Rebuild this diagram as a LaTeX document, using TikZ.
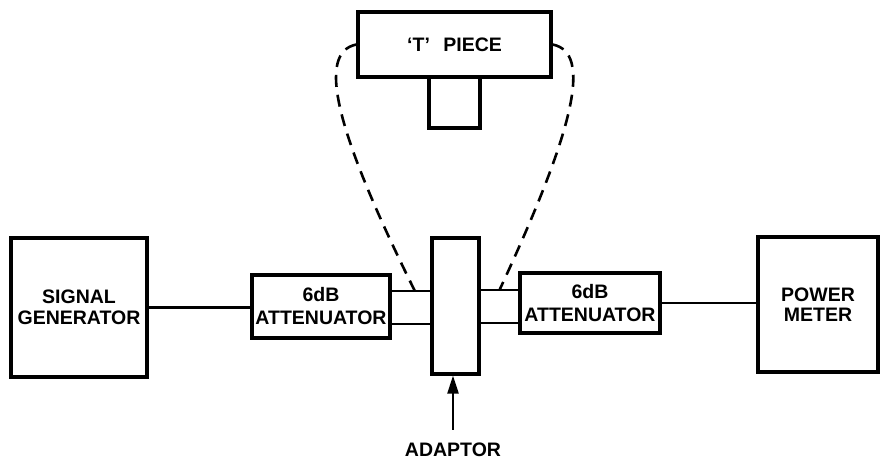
\documentclass[tikz,border=0pt]{standalone}
\usepackage{fontspec}
\setmainfont{Liberation Sans}
\usetikzlibrary{calc, arrows.meta, positioning}

\begin{document}
\begin{tikzpicture}[x=1pt, y=-1pt, >={Triangle[length=18pt, width=11pt]},
    khoi/.style={draw, line width=3.2pt, align=center, inner sep=0pt},
    day/.style={line width=2.4pt},
    net/.style={line width=2.6pt, dash pattern=on 12pt off 8pt}]
    \useasboundingbox (0,0) rectangle (882,461);
    % --- CHUOI DO CHINH ---
    \node[khoi, minimum width=136pt, minimum height=139pt,
          font=\bfseries\fontsize{19.5}{21}\selectfont] (sg) at (79,307.5) {SIGNAL\\GENERATOR};
    \node[khoi, minimum width=138pt, minimum height=63pt,
          font=\bfseries\fontsize{19.5}{23}\selectfont] (attA) at (321,306.5) {6dB\\ATTENUATOR};
    \node[khoi, minimum width=47pt, minimum height=136pt] (adp) at (455.5,306) {};
    \node[khoi, minimum width=140pt, minimum height=60pt,
          font=\bfseries\fontsize{19.5}{23}\selectfont] (attB) at (590,303) {6dB\\ATTENUATOR};
    \node[khoi, minimum width=120pt, minimum height=135pt,
          font=\bfseries\fontsize{19.5}{20}\selectfont] (pm) at (818,304.5) {POWER\\METER};

    % Day noi giua cac khoi
    \draw[day] (sg.east) -- (sg.east -| attA.west);
    \draw[day] (attB.east) -- (attB.east -| pm.west);

    % Hai doan ong ngan hai ben bo noi
    \coordinate (lt) at ([yshift=15.5pt]attA.east);
    \coordinate (lb) at ([yshift=-17.5pt]attA.east);
    \coordinate (rt) at ([yshift=13pt]attB.west);
    \coordinate (rb) at ([yshift=-20pt]attB.west);
    \draw[day] (lt) -- (lt -| adp.west);
    \draw[day] (lb) -- (lb -| adp.west);
    \draw[day] (rt -| adp.east) -- (rt);
    \draw[day] (rb -| adp.east) -- (rb);

    % --- KHOI 'T' PIECE ---
    \node[khoi, minimum width=193pt, minimum height=65pt,
          font=\bfseries\fontsize{19.5}{20}\selectfont] (tp) at (454.5,44.5) {`T'\hspace{8pt} PIECE};
    \node[khoi, minimum width=51pt, minimum height=51pt, below=-3.2pt of tp] (tst) {};

    % Duong net dut thay the bo noi
    \coordinate (le) at ($(lt)!0.6!(lt -| adp.west)$);
    \coordinate (re) at ($(rt -| adp.east)!0.5!(rt)$);
    \draw[net] (tp.west) .. controls +(-40,8) and +(-80,-161) .. (le);
    \draw[net] (tp.east) .. controls +(40,8) and +(75,-161) .. (re);

    % Nhan bo noi
    \node[font=\bfseries\fontsize{19.5}{20}\selectfont, inner sep=0pt] (adl) at (453,450) {ADAPTOR};
    \coordinate (adt) at ([yshift=13pt]adl.north);
    \draw[day, ->] (adt) -- (adt |- adp.south);
\end{tikzpicture}
\end{document}
